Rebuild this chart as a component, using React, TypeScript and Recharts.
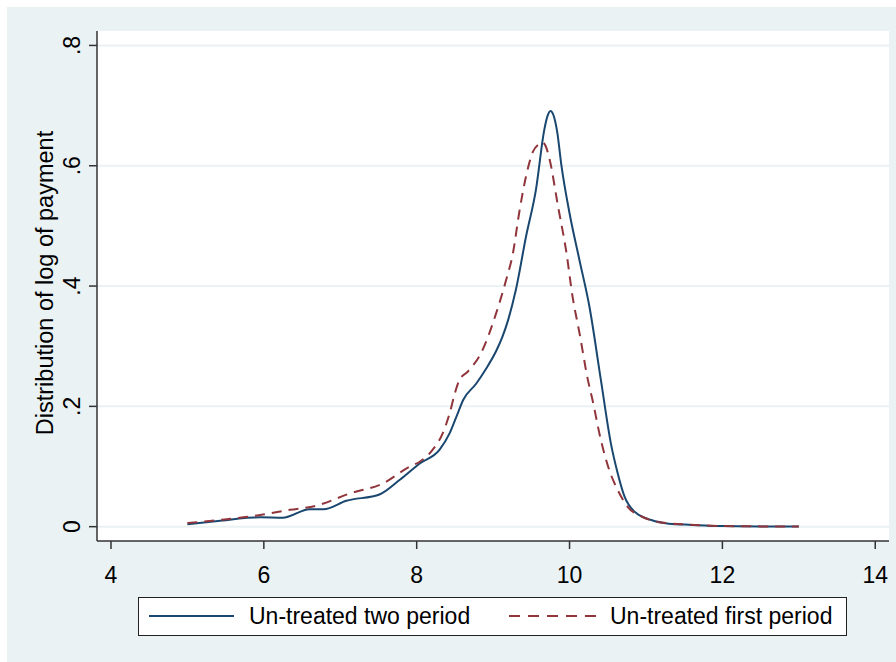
import { LineChart, Line, XAxis, YAxis, CartesianGrid } from 'recharts';

// kernel density of log payment
const twoPeriodX = [5.0, 5.4, 5.95, 6.25, 6.6, 6.78, 7.08, 7.52, 7.78, 8.04, 8.3, 8.43, 8.52, 8.61, 8.78, 8.91, 9.04, 9.12, 9.2, 9.3, 9.43, 9.56, 9.67, 9.71, 9.75, 9.79, 9.84, 9.89, 10.0, 10.13, 10.26, 10.41, 10.54, 10.63, 10.72, 10.85, 11.07, 11.3, 11.6, 12.0, 12.5, 13.0];
const twoPeriodY = [0.004, 0.0095, 0.0156, 0.015, 0.029, 0.029, 0.043, 0.054, 0.078, 0.105, 0.128, 0.155, 0.183, 0.211, 0.238, 0.263, 0.292, 0.315, 0.345, 0.395, 0.482, 0.56, 0.66, 0.682, 0.691, 0.684, 0.655, 0.604, 0.521, 0.443, 0.366, 0.244, 0.139, 0.089, 0.05, 0.025, 0.011, 0.005, 0.003, 0.001, 0.0005, 0.0001];

const firstPeriodX = [5.0, 5.4, 5.82, 6.34, 6.69, 7.12, 7.56, 7.91, 8.04, 8.21, 8.34, 8.43, 8.5, 8.56, 8.67, 8.84, 9.04, 9.17, 9.26, 9.34, 9.43, 9.52, 9.6, 9.64, 9.69, 9.74, 9.85, 9.96, 10.04, 10.13, 10.24, 10.3, 10.41, 10.52, 10.63, 10.76, 10.94, 11.2, 11.5, 12.0, 12.5, 13.0];
const firstPeriodY = [0.006, 0.011, 0.017, 0.028, 0.035, 0.055, 0.072, 0.1, 0.108, 0.128, 0.155, 0.188, 0.222, 0.244, 0.258, 0.288, 0.355, 0.41, 0.455, 0.521, 0.582, 0.623, 0.636, 0.639, 0.632, 0.61, 0.532, 0.455, 0.382, 0.322, 0.244, 0.211, 0.144, 0.094, 0.061, 0.033, 0.017, 0.007, 0.004, 0.001, 0.0005, 0.0001];

const xTicks = [4, 6, 8, 10, 12, 14];
const yTicks = [0, 0.2, 0.4, 0.6, 0.8];
const yTickLabels = ['0', '.2', '.4', '.6', '.8'];

const seriesNames = ['Un-treated two period', 'Un-treated first period'];

const BLUE = '#1a476f';
const RED = '#90353b';
const BG = '#eaf2f3';
const AXIS = '#333';
const FONT = '"Liberation Sans", Arial, sans-serif';

const twoPeriod = twoPeriodX.map((x, i) => ({ x, y: twoPeriodY[i] }));
const firstPeriod = firstPeriodX.map((x, i) => ({ x, y: firstPeriodY[i] }));

const XTick = ({ x, y, payload }: any) => (
  <text x={x} y={y + 24} textAnchor="middle" dominantBaseline="central" fontSize={23} fontFamily={FONT} fill="#000">
    {payload.value}
  </text>
);

const YTick = ({ y, payload }: any) => {
  const idx = yTicks.indexOf(payload.value);
  const lx = 65;
  return (
    <text x={lx} y={y} transform={`rotate(-90 ${lx} ${y})`} textAnchor="middle" dominantBaseline="central" fontSize={23} fontFamily={FONT} fill="#000">
      {idx >= 0 ? yTickLabels[idx] : payload.value}
    </text>
  );
};

const YTitle = ({ viewBox }: any) => {
  const cy = viewBox.y + viewBox.height / 2 - 3;
  const cx = 38;
  return (
    <text x={cx} y={cy} transform={`rotate(-90 ${cx} ${cy})`} textAnchor="middle" dominantBaseline="central" fontSize={23.5} fontFamily={FONT} fill="#000">
      Distribution of log of payment
    </text>
  );
};

export default function App() {
  return (
    <div style={{ position: 'fixed', left: 7, top: 7, width: 889, height: 655, background: BG, fontFamily: FONT }}>
      <LineChart width={889} height={584} margin={{ top: 24, right: 7, left: 0, bottom: 0 }}>
        <CartesianGrid vertical={false} stroke={BG} strokeWidth={2} fill="#fff" horizontalValues={yTicks} />
        <XAxis
          type="number"
          dataKey="x"
          domain={[3.817, 14.18]}
          ticks={xTicks}
          allowDataOverflow
          height={50}
          tickSize={8}
          stroke={AXIS}
          strokeWidth={1.5}
          tick={<XTick />}
        />
        <YAxis
          type="number"
          dataKey="y"
          domain={[-0.0238, 0.824]}
          ticks={yTicks}
          allowDataOverflow
          width={90}
          tickSize={8}
          stroke={AXIS}
          strokeWidth={1.5}
          tick={<YTick />}
          label={{ content: <YTitle /> }}
        />
        <Line data={twoPeriod} dataKey="y" type="monotone" stroke={BLUE} strokeWidth={2} dot={false} isAnimationActive={false} />
        <Line data={firstPeriod} dataKey="y" type="monotone" stroke={RED} strokeWidth={2} strokeDasharray="10 7" dot={false} isAnimationActive={false} />
      </LineChart>
      <div style={{ position: 'absolute', left: 131, top: 590, width: 707, height: 37, background: '#fff', border: '1px solid #222' }}>
        <svg width={707} height={37} style={{ position: 'absolute', left: 0, top: 0 }}>
          <line x1={10} y1={18} x2={95} y2={18} stroke={BLUE} strokeWidth={2} />
          <text x={110} y={18} dominantBaseline="central" fontSize={23} fontFamily={FONT} fill="#000">{seriesNames[0]}</text>
          <line x1={370} y1={18} x2={457} y2={18} stroke={RED} strokeWidth={2} strokeDasharray="11 8" />
          <text x={471} y={18} dominantBaseline="central" fontSize={23} fontFamily={FONT} fill="#000">{seriesNames[1]}</text>
        </svg>
      </div>
    </div>
  );
}
